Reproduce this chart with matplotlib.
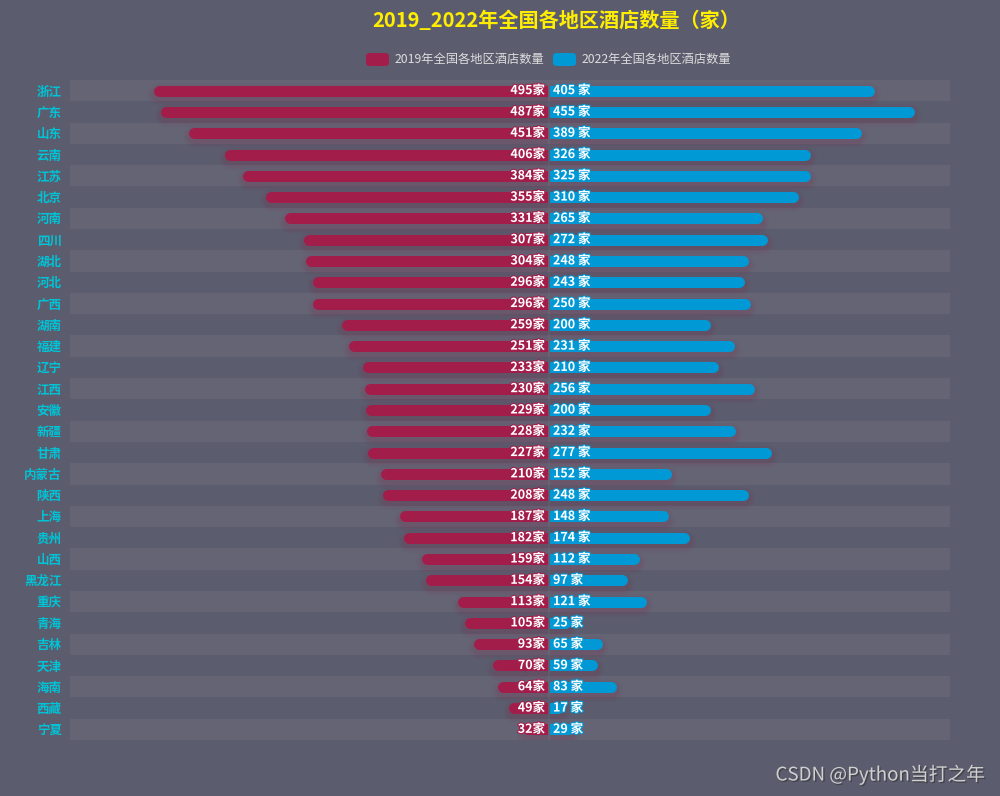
import matplotlib
matplotlib.use("Agg")
import matplotlib.pyplot as plt
from matplotlib.patches import FancyBboxPatch
import matplotlib.patheffects as pe

plt.rcParams['font.family'] = ['Noto Sans CJK SC', 'DejaVu Sans']

provinces = ["浙江", "广东", "山东", "云南", "江苏", "北京", "河南", "四川", "湖北", "河北",
             "广西", "湖南", "福建", "辽宁", "江西", "安徽", "新疆", "甘肃", "内蒙古", "陕西",
             "上海", "贵州", "山西", "黑龙江", "重庆", "青海", "吉林", "天津", "海南", "西藏", "宁夏"]
hotels_2019 = [495, 487, 451, 406, 384, 355, 331, 307, 304, 296, 296, 259, 251, 233, 230, 229,
               228, 227, 210, 208, 187, 182, 159, 154, 113, 105, 93, 70, 64, 49, 32]
hotels_2022 = [405, 455, 389, 326, 325, 310, 265, 272, 248, 243, 250, 200, 231, 210, 256, 200,
               232, 277, 152, 248, 148, 174, 112, 97, 121, 25, 65, 59, 83, 17, 29]
series_names = ["2019年全国各地区酒店数量", "2022年全国各地区酒店数量"]
title = "2019_2022年全国各地区酒店数量（家）"

BG = "#5b5c6e"
BAND = "#646475"
RED = "#a31d4b"
BLUE = "#0099d6"
LABEL_C = "#00c3d6"

W, H = 1000, 796
fig = plt.figure(figsize=(W / 100, H / 100), dpi=100)
fig.patch.set_facecolor(BG)

top_px, bot_px = 80, 740
bottom = (H - bot_px) / H
height = (bot_px - top_px) / H
n = len(provinces)

# striped background
ax_bg = fig.add_axes([70 / W, bottom, 880 / W, height])
ax_bg.set_xlim(0, 1)
ax_bg.set_ylim(n - 0.5, -0.5)
for i in range(0, n, 2):
    ax_bg.axhspan(i - 0.5, i + 0.5, color=BAND, lw=0)
ax_bg.set_facecolor(BG)
ax_bg.axis("off")

ax_l = fig.add_axes([70 / W, bottom, 478 / W, height])
ax_r = fig.add_axes([550 / W, bottom, 400 / W, height])
ax_l.set_xlim(600, 0)
ax_r.set_xlim(0, 500)

BAR_PX = 11
lw_pt = BAR_PX * 72 / 100


def draw_bars(ax, values, color, px_per_unit, side):
    r_units = (BAR_PX / 2) / px_per_unit
    for i, v in enumerate(values):
        end = max(v - r_units, 0.5)
        # soft reddish shadow
        for extra, a in [(12, 0.04), (8, 0.06), (4, 0.09)]:
            ax.plot([-20, end], [i + 0.15, i + 0.15], color="#8c1f45",
                    lw=lw_pt + extra * 0.72, alpha=a, solid_capstyle="round", zorder=1)
        ax.plot([-20, end], [i, i], color=color, lw=lw_pt,
                solid_capstyle="round", zorder=2)
        if side == "left":
            ax.annotate(f"{v}家", (0, i), xytext=(-3, 0), textcoords="offset pixels",
                        ha="right", va="center", color="white", fontsize=9, fontweight="bold",
                        zorder=3, path_effects=[pe.withStroke(linewidth=1.5, foreground=color)])
        else:
            ax.annotate(f"{v} 家", (0, i), xytext=(3, 0), textcoords="offset pixels",
                        ha="left", va="center", color="white", fontsize=9, fontweight="bold",
                        zorder=3, path_effects=[pe.withStroke(linewidth=1.5, foreground=color)])


draw_bars(ax_l, hotels_2019, RED, 478 / 600, "left")
draw_bars(ax_r, hotels_2022, BLUE, 400 / 500, "right")

for ax in (ax_l, ax_r):
    ax.set_ylim(n - 0.5, -0.5)
    ax.patch.set_alpha(0)
    for s in ax.spines.values():
        s.set_visible(False)
    ax.set_xticks([])
    ax.set_yticks([])

ax_l.set_yticks(range(n))
ax_l.set_yticklabels(provinces, color=LABEL_C, fontsize=9, fontweight="bold")
ax_l.tick_params(axis="y", length=0, pad=6)

fig.text(0.556, 1 - 21 / H, title, ha="center", va="center", color="#ffee00",
         fontsize=14.5, fontweight="bold")

# legend
for x0, c, name in [(366, RED, series_names[0]), (553, BLUE, series_names[1])]:
    patch = FancyBboxPatch((x0 / W, 1 - 66 / H), 23 / W, 13 / H,
                           boxstyle="round,pad=0,rounding_size=0.004",
                           transform=fig.transFigure, facecolor=c, edgecolor="none")
    fig.patches.append(patch)
    fig.text((x0 + 29) / W, 1 - 59 / H, name, ha="left", va="center",
             color="#dddddd", fontsize=8.8)

fig.text(985 / W, 1 - 775 / H, "CSDN @Python当打之年", ha="right", va="center",
         color="#d0d0d0", fontsize=13.5,
         path_effects=[pe.withSimplePatchShadow(offset=(1, -1), shadow_rgbFace="#333333", alpha=0.6)])

fig.savefig("out.png", dpi=100, facecolor=BG)
